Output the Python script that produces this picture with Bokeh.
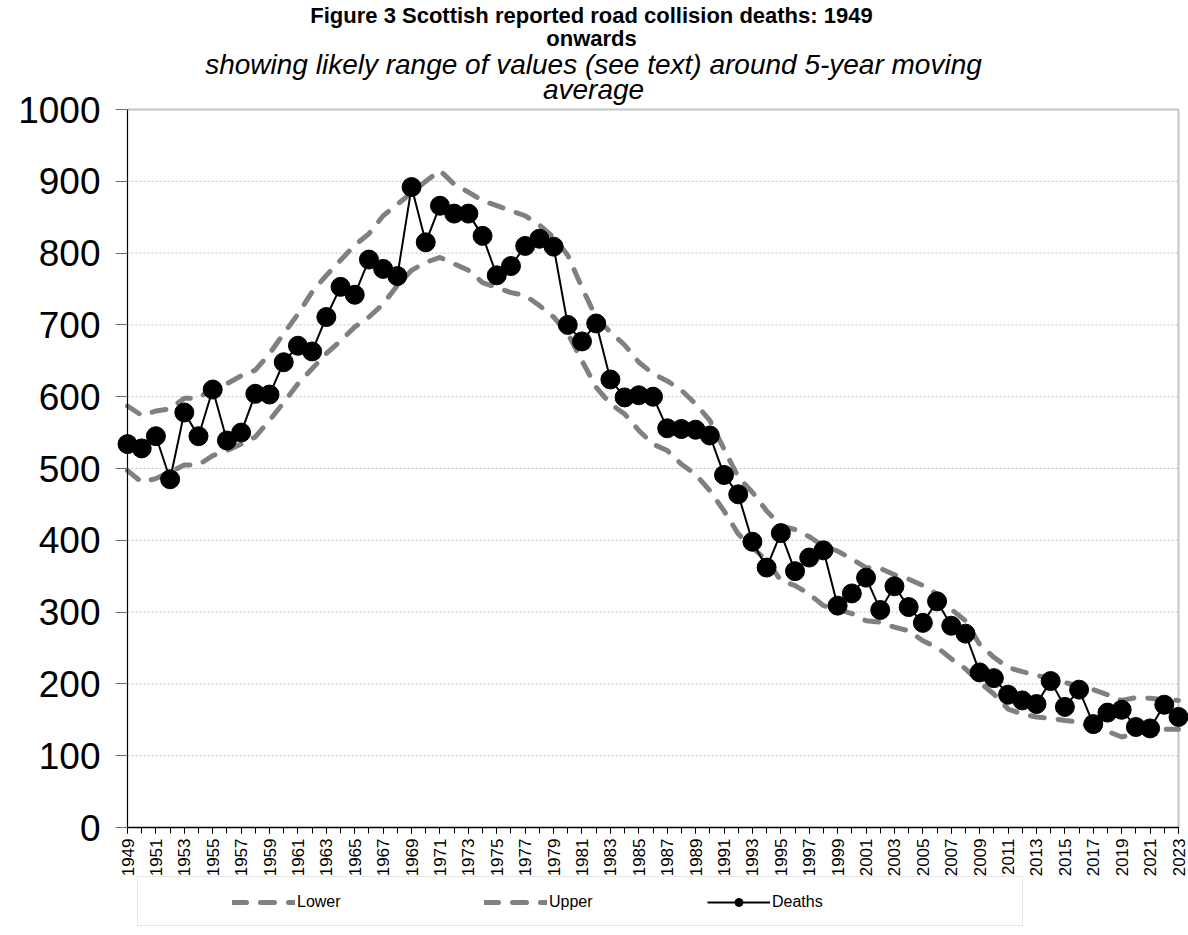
from bokeh.plotting import figure
from bokeh.models import Range1d, FixedTicker, Label, Legend, LegendItem
from bokeh.embed import file_html
from bokeh.resources import INLINE

# ---- data ----
years = list(range(1949, 2024))

deaths = [534, 528, 545, 485, 578, 545, 610, 539, 550, 604,
          603, 648, 671, 663, 711, 753, 742, 791, 778, 768,
          892, 815, 866, 855, 855, 824, 769, 782, 810, 820,
          809, 700, 677, 702, 624, 599, 602, 600, 556, 555,
          554, 546, 491, 464, 398, 362, 410, 357, 376, 386,
          309, 326, 348, 303, 336, 307, 285, 315, 281, 270,
          216, 208, 185, 177, 172, 204, 168, 192, 144, 160,
          164, 140, 138, 171, 154]

upper = [587, 574, 580, 583, 598, 598, 612, 618, 629, 637,
         660, 688, 715, 746, 769, 790, 811, 827, 852, 868,
         884, 900, 915, 896, 885, 873, 866, 859, 852, 839,
         822, 797, 752, 710, 690, 672, 648, 632, 622, 609,
         590, 567, 527, 488, 467, 441, 420, 415, 405, 392,
         385, 374, 362, 361, 352, 346, 337, 325, 304, 288,
         255, 237, 223, 217, 212, 207, 202, 197, 192, 185,
         177, 181, 180, 178, 177]

lower = [497, 481, 486, 495, 505, 505, 518, 525, 534, 544,
         567, 592, 618, 639, 660, 678, 697, 711, 729, 755,
         776, 787, 794, 785, 776, 759, 752, 745, 741, 727,
         711, 688, 650, 613, 590, 576, 553, 534, 525, 506,
         492, 469, 441, 409, 390, 372, 344, 337, 325, 309,
         304, 298, 288, 286, 279, 274, 260, 251, 235, 221,
         202, 186, 165, 158, 154, 152, 149, 147, 137, 134,
         126, 131, 135, 137, 137]

y_ticks = list(range(0, 1001, 100))
x_label_years = list(range(1949, 2024, 2))

title_lines = ["Figure 3 Scottish reported road collision deaths: 1949", "onwards"]
subtitle_lines = ["showing likely range of values (see text) around 5-year moving", "average"]
legend_labels = ["Lower", "Upper", "Deaths"]

FONT = "Liberation Sans"
GREY = "#808080"
NAN = float("nan")

# ---- layout: the frame covers the whole canvas; axes are pinned in data space ----
W, H = 1188, 933
X0_PX, X1_PX = 127, 1178      # pixel columns of first / last year
Y0_PX, Y1_PX = 827, 109       # pixel rows of 0 / 1000
xs = (X1_PX - X0_PX) / (years[-1] - years[0])
ys = (Y0_PX - Y1_PX) / 1000.0
x_start = years[0] - X0_PX / xs
x_end = x_start + W / xs
y_top = Y0_PX / ys
y_bot = -(H - Y0_PX) / ys

p = figure(width=W, height=H, min_border=0,
           x_range=Range1d(x_start, x_end), y_range=Range1d(y_bot, y_top),
           output_backend="svg", toolbar_location=None)
p.background_fill_color = "white"
p.border_fill_color = "white"
p.outline_line_color = None
p.xgrid.grid_line_color = None
p.ygrid.grid_line_color = None

# axes
p.xaxis.fixed_location = 0
p.xaxis.bounds = (years[0], years[-1])
p.xaxis.ticker = FixedTicker(ticks=x_label_years, minor_ticks=years)
p.xaxis.major_label_orientation = 1.5708
p.xaxis.major_label_text_font = FONT
p.xaxis.major_label_text_font_size = "17px"
p.xaxis.major_label_text_color = "black"
p.xaxis.major_label_standoff = 5
p.xaxis.major_tick_out = 6
p.xaxis.major_tick_in = 0
p.xaxis.minor_tick_out = 6
p.xaxis.minor_tick_in = 0
p.xaxis.axis_line_color = "black"
p.xaxis.axis_line_width = 1.5
p.xaxis.major_tick_line_color = "black"
p.xaxis.minor_tick_line_color = "black"

p.yaxis.fixed_location = years[0]
p.yaxis.bounds = (0, 1000)
p.yaxis.ticker = FixedTicker(ticks=y_ticks, minor_ticks=[])
p.yaxis.major_label_text_font = FONT
p.yaxis.major_label_text_font_size = "37px"
p.yaxis.major_label_text_color = "black"
p.yaxis.major_label_standoff = 15
p.yaxis.major_tick_out = 12
p.yaxis.major_tick_in = 0
p.yaxis.axis_line_color = "black"
p.yaxis.axis_line_width = 1.2
p.yaxis.major_tick_line_color = "#707070"

# gridlines and the plot-area border (top / right)
p.segment(x0=[years[0]] * (len(y_ticks) - 1), y0=y_ticks[1:],
          x1=[years[-1]] * (len(y_ticks) - 1), y1=y_ticks[1:],
          line_color="#c0c0c0", line_width=1, line_dash="2 2")
p.segment(x0=[years[0], years[-1]], y0=[y_ticks[-1], y_ticks[0]],
          x1=[years[-1], years[-1]], y1=[y_ticks[-1], y_ticks[-1]],
          line_color="#c4c4c4", line_width=2)

# series
r_lower = p.line(years, lower, line_color=GREY, line_width=5, line_dash="14 14", line_cap="round")
r_upper = p.line(years, upper, line_color=GREY, line_width=5, line_dash="14 14", line_cap="round")
r_dline = p.line(years, deaths, line_color="black", line_width=2)
r_dpts = p.scatter(years, deaths, size=19, marker="circle", fill_color="black", line_color="black")

# proxy renderers (no visible data) for the legend samples
proxy_box = p.line([NAN], [NAN], line_alpha=0)
proxy_dl = p.line([NAN], [NAN], line_color="black", line_width=2)
proxy_dp = p.scatter([NAN], [NAN], size=9, marker="circle", fill_color="black", line_color="black")

# legend frame (x 137..1022, y 878..926 in canvas pixels)
box_legend = Legend(items=[LegendItem(label=" ", renderers=[proxy_box])],
                    location=(137, H - 926), orientation="horizontal",
                    glyph_width=884, glyph_height=48, label_width=0, label_height=48,
                    label_standoff=0, padding=0, margin=0, spacing=0,
                    border_line_color="#cfcfcf", border_line_width=1.5,
                    background_fill_color="white", background_fill_alpha=1.0,
                    label_text_font_size="4px")
p.add_layout(box_legend)

item_specs = [(legend_labels[0], [r_lower], 232),
              (legend_labels[1], [r_upper], 484),
              (legend_labels[2], [proxy_dl, proxy_dp], 707)]
for lab, rends, xpos in item_specs:
    lg = Legend(items=[LegendItem(label=lab, renderers=rends)],
                location=(xpos, H - 912), orientation="horizontal",
                glyph_width=63, glyph_height=20, label_height=20, label_width=10,
                label_standoff=2, padding=0, margin=0, spacing=0,
                border_line_alpha=0, background_fill_alpha=0,
                label_text_font=FONT, label_text_font_size="16px",
                label_text_color="black")
    p.add_layout(lg)

# titles (canvas pixel centres)
for txt, cy in [(title_lines[0], 15), (title_lines[1], 38)]:
    p.add_layout(Label(x=591, y=H - cy, x_units="screen", y_units="screen", text=txt,
                       text_font=FONT, text_font_size="22px", text_font_style="bold",
                       text_align="center", text_baseline="middle", text_color="black"))
for txt, cy in [(subtitle_lines[0], 64), (subtitle_lines[1], 89)]:
    p.add_layout(Label(x=593, y=H - cy, x_units="screen", y_units="screen", text=txt,
                       text_font=FONT, text_font_size="28px", text_font_style="italic",
                       text_align="center", text_baseline="middle", text_color="black"))

open("out.html", "w").write(file_html(p, INLINE))
